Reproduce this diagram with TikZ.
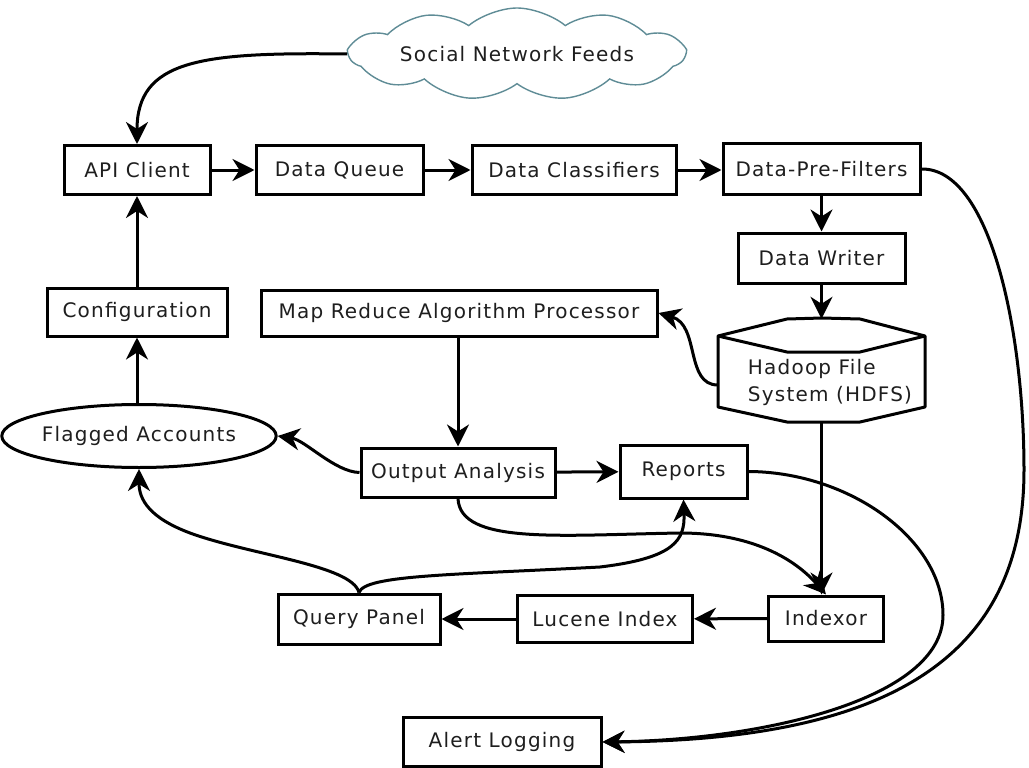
\documentclass[tikz,border=0pt]{standalone}
\usepackage{fontspec}
\setmainfont{DejaVu Sans}[LetterSpace=6]
\usetikzlibrary{arrows.meta,shapes.geometric,shapes.symbols,calc}
\definecolor{cloudline}{RGB}{95,140,150}
\definecolor{txt}{RGB}{30,30,30}
\begin{document}
\begin{tikzpicture}[x=1pt,y=-1pt,
  lbl/.style={text=txt, font=\fontsize{20}{27}\selectfont},
  box/.style={lbl, draw, line width=3pt, rectangle, inner sep=0pt, minimum height=49pt, fill=white},
  conn/.style={line width=3pt, -{Stealth[length=22pt,width=22pt,inset=7pt]}},
]
\useasboundingbox (0,0) rectangle (1029,768);
\fill[white] (0,0) rectangle (1029,768);

% cloud
\node[lbl, cloud, draw=cloudline, line width=1.4pt, cloud puffs=11, cloud puff arc=80,
      cloud ignores aspect, minimum width=335pt, minimum height=92pt, inner sep=0pt] (cloud) at (517,54) {Social Network Feeds};

% boxes
\node[box, minimum width=146pt] (api) at (137,170) {API Client};
\node[box, minimum width=167pt] (dq) at (339.5,170) {Data Queue};
\node[box, minimum width=204pt] (dc) at (574,170) {Data Classifiers};
\node[box, minimum width=197pt, minimum height=51pt] (dpf) at (821.5,169) {Data-Pre-Filters};
\node[box, minimum width=167pt, minimum height=50pt] (dw) at (821.5,258) {Data Writer};
\node[box, minimum width=180pt, minimum height=48pt] (cfg) at (137,312) {Configuration};
\node[box, minimum width=396pt, minimum height=46pt] (mr) at (459,313) {Map Reduce Algorithm Processor};
\node[lbl, ellipse, draw, line width=3pt, minimum width=262pt, minimum height=63pt, inner sep=0pt] (flag) at (139,436) {Flagged Accounts};
\node[box, minimum width=194pt] (out) at (458,472.5) {Output Analysis};
\node[box, minimum width=127pt, minimum height=53pt] (rep) at (683.5,471.5) {Reports};
\node[box, minimum width=162pt, minimum height=50pt] (qp) at (359,619) {Query Panel};
\node[box, minimum width=175pt, minimum height=47pt] (luc) at (605,619) {Lucene Index};
\node[box, minimum width=115pt, minimum height=45pt] (idx) at (826,618.5) {Indexor};
\node[box, minimum width=198pt, minimum height=49pt] (al) at (502,742) {Alert Logging};

% HDFS cylinder
\node[minimum width=207pt, minimum height=104pt, inner sep=0pt] (hdfs) at (821.5,371) {};
\draw[line width=3pt, line join=round, fill=white]
  (718,336) -- (787,319) -- (822,318) -- (860,319) -- (925,336) -- (925,407)
  -- (860,422) -- (787,422) -- (718,407) -- cycle;
\draw[line width=3pt, line join=round] (718,336) -- (787,352) -- (860,352) -- (925,336);
\node[lbl, align=left, inner sep=0pt] (hdfst) at (830,382) {Hadoop File\\System (HDFS)};

% straight connectors
\draw[conn] (api) -- (dq);
\draw[conn] (dq) -- (dc);
\draw[conn] (dc.east) -- (dc.east -| dpf.west);
\draw[conn] (dpf) -- (dw);
\draw[conn] (dw.south) -- (hdfs.north);
\draw[conn] (cfg) -- (api);
\draw[conn] (cfg.south |- flag.north) -- (cfg.south);
\draw[conn] (mr.south -| out.north) -- (out.north);
\draw[conn] (out) -- (rep);
\draw[conn] (hdfs.south) -- (hdfs.south |- idx.north);
\draw[conn] (idx) -- (luc);
\draw[conn] (luc) -- (qp);

% curved connectors
\draw[conn] (cloud.west) .. controls (200,52) and (137,60) .. (api.north);
\draw[conn] ([yshift=-14pt]hdfs.west) .. controls (685,385) and (700,325) .. (mr.east);
\draw[conn] (out.west) .. controls (335,472) and (305,440) .. (flag.east);
\draw[conn] (out.south) .. controls (460,545) and (560,535) .. (680,533)
  .. controls (760,533) and (800,565) .. (idx.north);
\draw[conn] (qp.north) .. controls (365,575) and (450,575) .. (600,567)
  .. controls (675,558) and (685,540) .. (rep.south);
\draw[conn] (qp.north) .. controls (352,565) and (250,555) .. (190,533)
  .. controls (150,518) and (139,500) .. (flag.south);
\draw[conn] (rep.east) .. controls (850,472) and (943,540) .. (943,615)
  .. controls (943,700) and (760,740) .. (al.east);
\draw[conn] (dpf.east) .. controls (990,168) and (1024,330) .. (1024,470)
  .. controls (1024,650) and (900,740) .. (al.east);
\end{tikzpicture}
\end{document}
